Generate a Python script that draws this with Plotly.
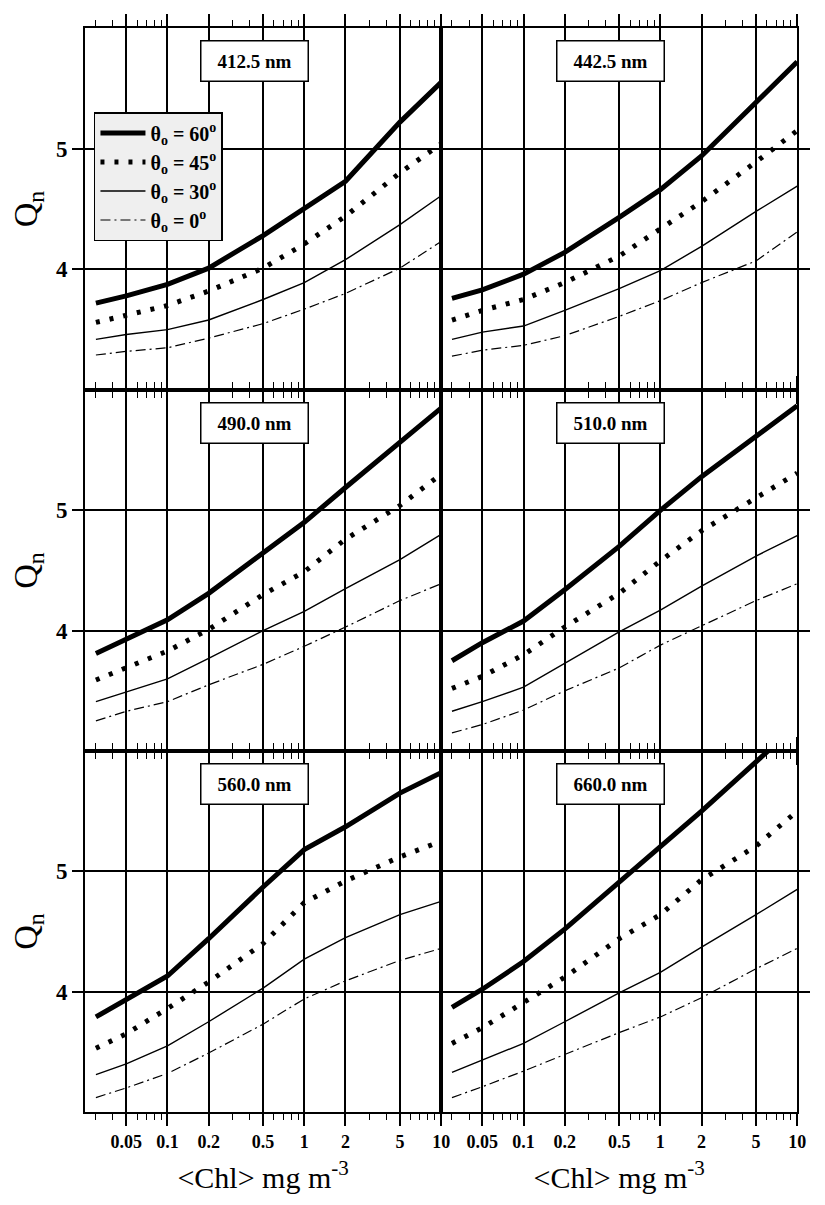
import numpy as np
import plotly.graph_objects as go

# ---------------- data ----------------
chl = [0.03, 0.05, 0.1, 0.2, 0.5, 1, 2, 5, 10]
major_ticks = [0.05, 0.1, 0.2, 0.5, 1, 2, 5, 10]
major_labels = ["0.05", "0.1", "0.2", "0.5", "1", "2", "5", "10"]
minor_ticks = [0.03, 0.04, 0.06, 0.07, 0.08, 0.09, 0.3, 0.4, 0.6, 0.7, 0.8, 0.9,
               3, 4, 6, 7, 8, 9]
y_ticks = [4, 5]
panel_labels = ["412.5 nm", "442.5 nm", "490.0 nm", "510.0 nm", "560.0 nm", "660.0 nm"]
theta_names = ["θ<sub>o</sub> = 60<sup>o</sup>", "θ<sub>o</sub> = 45<sup>o</sup>",
               "θ<sub>o</sub> = 30<sup>o</sup>", "θ<sub>o</sub> = 0<sup>o</sup>"]

q412_60 = [3.72, 3.78, 3.875, 4.01, 4.28, 4.50, 4.73, 5.22, 5.55]
q412_45 = [3.56, 3.62, 3.70, 3.82, 4.01, 4.21, 4.44, 4.80, 5.04]
q412_30 = [3.42, 3.46, 3.50, 3.58, 3.75, 3.89, 4.08, 4.37, 4.61]
q412_00 = [3.29, 3.32, 3.35, 3.43, 3.55, 3.67, 3.80, 4.01, 4.23]

q442_60 = [3.76, 3.83, 3.96, 4.14, 4.43, 4.66, 4.94, 5.38, 5.72]
q442_45 = [3.58, 3.66, 3.75, 3.89, 4.11, 4.34, 4.56, 4.89, 5.15]
q442_30 = [3.42, 3.48, 3.53, 3.66, 3.84, 3.99, 4.19, 4.48, 4.69]
q442_00 = [3.28, 3.33, 3.37, 3.45, 3.61, 3.74, 3.89, 4.07, 4.31]

q490_60 = [3.81, 3.93, 4.09, 4.31, 4.65, 4.90, 5.19, 5.57, 5.85]
q490_45 = [3.59, 3.69, 3.83, 4.01, 4.30, 4.49, 4.76, 5.04, 5.30]
q490_30 = [3.41, 3.49, 3.60, 3.77, 4.00, 4.16, 4.35, 4.59, 4.80]
q490_00 = [3.25, 3.33, 3.41, 3.55, 3.72, 3.87, 4.03, 4.25, 4.39]

q510_60 = [3.75, 3.90, 4.08, 4.34, 4.70, 5.00, 5.28, 5.62, 5.87]
q510_45 = [3.52, 3.62, 3.80, 4.03, 4.31, 4.58, 4.83, 5.11, 5.31]
q510_30 = [3.33, 3.41, 3.53, 3.73, 3.99, 4.17, 4.37, 4.62, 4.79]
q510_00 = [3.15, 3.22, 3.34, 3.50, 3.69, 3.88, 4.04, 4.25, 4.39]

q560_60 = [3.79, 3.93, 4.13, 4.44, 4.87, 5.18, 5.37, 5.65, 5.82]
q560_45 = [3.53, 3.65, 3.86, 4.08, 4.40, 4.74, 4.92, 5.12, 5.25]
q560_30 = [3.31, 3.40, 3.55, 3.75, 4.03, 4.27, 4.45, 4.64, 4.75]
q560_00 = [3.12, 3.20, 3.32, 3.49, 3.73, 3.94, 4.09, 4.26, 4.36]

q660_60 = [3.87, 4.02, 4.25, 4.52, 4.91, 5.20, 5.50, 5.91, 6.22]
q660_45 = [3.57, 3.70, 3.91, 4.12, 4.44, 4.64, 4.93, 5.21, 5.50]
q660_30 = [3.33, 3.43, 3.57, 3.75, 3.99, 4.16, 4.37, 4.64, 4.85]
q660_00 = [3.12, 3.21, 3.34, 3.48, 3.66, 3.79, 3.95, 4.19, 4.36]

panels = [
    [q412_60, q412_45, q412_30, q412_00],
    [q442_60, q442_45, q442_30, q442_00],
    [q490_60, q490_45, q490_30, q490_00],
    [q510_60, q510_45, q510_30, q510_00],
    [q560_60, q560_45, q560_30, q560_00],
    [q660_60, q660_45, q660_30, q660_00],
]

# ---------------- styles ----------------
W, H = 825, 1205
FONT = "Liberation Serif"
line_styles = [
    dict(color="black", width=5, dash="solid"),
    dict(color="black", width=5, dash="4px,10px"),
    dict(color="black", width=1.4, dash="solid"),
    dict(color="black", width=1.2, dash="10px,4px,2px,4px"),
]

col_px = [(86, 446), (446, 806)]
row_px = [(28, 390), (390, 751), (751, 1112)]
XRANGE = [np.log10(0.025), 1.0]

fig = go.Figure()
layout = dict(
    width=W, height=H,
    margin=dict(l=0, r=0, t=0, b=0),
    paper_bgcolor="white", plot_bgcolor="white",
    font=dict(family=FONT, color="black"),
    showlegend=True,
    legend=dict(
        x=95 / W, y=1 - 112 / H, xanchor="left", yanchor="top",
        bgcolor="#efefef", bordercolor="black", borderwidth=1.5,
        font=dict(family=FONT, size=20, weight="bold", color="black"),
        itemwidth=45, tracegroupgap=0,
    ),
    annotations=[],
)

for i, curves in enumerate(panels):
    r, c = divmod(i, 2)
    idx = i + 1
    xname = "xaxis" if idx == 1 else f"xaxis{idx}"
    yname = "yaxis" if idx == 1 else f"yaxis{idx}"
    xref = "x" if idx == 1 else f"x{idx}"
    yref = "y" if idx == 1 else f"y{idx}"
    x0, x1 = col_px[c]
    y0, y1 = row_px[r]
    bottom = r == 2
    left = c == 0

    for k, q in enumerate(curves):
        fig.add_trace(go.Scatter(
            x=chl, y=q, mode="lines", line=line_styles[k],
            name=theta_names[k], showlegend=(i == 0),
            xaxis=xref, yaxis=yref, hoverinfo="skip",
        ))

    layout[xname] = dict(
        domain=[x0 / W, x1 / W], anchor=yref, type="log",
        range=XRANGE,
        tickvals=major_ticks, ticktext=major_labels,
        showticklabels=bottom,
        ticks="outside", ticklen=12, tickwidth=1.5, tickcolor="black",
        showgrid=True, gridcolor="black", gridwidth=1.5,
        showline=True, linecolor="black", linewidth=1.8, mirror="ticks",
        zeroline=False,
        minor=dict(tickvals=minor_ticks, ticks="outside", ticklen=6,
                   tickwidth=1.2, tickcolor="black", showgrid=False),
        tickfont=dict(family=FONT, size=18, weight="bold", color="black"),
    )
    if bottom:
        layout[xname]["title"] = dict(
            text="&lt;Chl&gt; mg m<sup>-3</sup>",
            font=dict(family=FONT, size=30, color="black"), standoff=16)

    # top-side axis carrying the minor ticks on the upper frame
    tname = f"xaxis{idx + 6}"
    layout[tname] = dict(
        overlaying=xref, side="top", anchor=yref, type="log",
        range=XRANGE, tickvals=minor_ticks, showticklabels=False,
        ticks="outside", ticklen=6, tickwidth=1.2, tickcolor="black",
        showgrid=False, showline=False, zeroline=False,
    )

    layout[yname] = dict(
        domain=[1 - y1 / H, 1 - y0 / H], anchor=xref,
        range=[3.0, 6.0], tickvals=y_ticks,
        showticklabels=left,
        ticks="outside", ticklen=11, tickwidth=1.5, tickcolor="black",
        showgrid=True, gridcolor="black", gridwidth=1.5,
        showline=True, linecolor="black", linewidth=1.8, mirror="ticks",
        zeroline=False,
        tickfont=dict(family=FONT, size=23, weight="bold", color="black"),
    )
    if left:
        layout[yname]["title"] = dict(
            text="Q<sub>n</sub>", font=dict(family=FONT, size=34, color="black"),
            standoff=8)

    layout["annotations"].append(dict(
        text=panel_labels[i], xref=f"{xref} domain", yref=f"{yref} domain",
        x=0.475, y=1 - 33 / (y1 - y0), xanchor="center", yanchor="middle",
        showarrow=False, bgcolor="white", bordercolor="black", borderwidth=1.5,
        width=104, height=37,
        font=dict(family=FONT, size=19, weight="bold", color="black"),
    ))

fig.update_layout(**layout)

# invisible traces so the top-side axes are drawn
for i in range(6):
    r, c = divmod(i, 2)
    yref = "y" if i == 0 else f"y{i + 1}"
    fig.add_trace(go.Scatter(x=[chl[0]], y=[3.0], mode="markers",
                             marker=dict(opacity=0), showlegend=False,
                             hoverinfo="skip", xaxis=f"x{i + 7}", yaxis=yref))

fig.write_html("out.html")
